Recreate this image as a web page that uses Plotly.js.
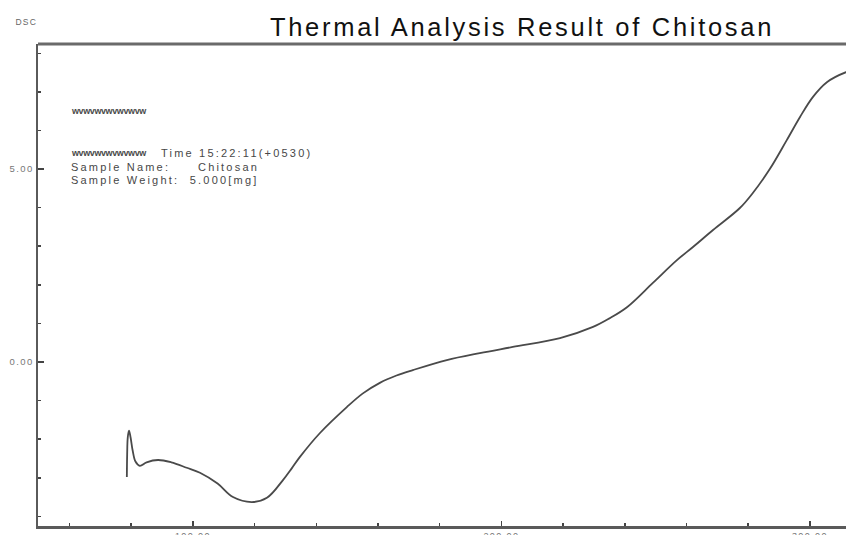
<!DOCTYPE html>
<html>
<head>
<meta charset="utf-8">
<script src="https://cdn.plot.ly/plotly-3.0.1.min.js"></script>
<style>
html,body{margin:0;padding:0;background:#fff;}
#chart{width:846px;height:535px;}
.gtitle{letter-spacing:2.7px;}
.annotation-text{letter-spacing:2.2px;}
g.annotation[data-index="0"] .annotation-text{letter-spacing:1.2px;}
g.annotation[data-index="1"] .annotation-text,
g.annotation[data-index="2"] .annotation-text{letter-spacing:-0.4px;}
.xtick text,.ytick text{letter-spacing:1.4px;}
</style>
</head>
<body>
<div id="chart"></div>
<script>
// Temperature (deg C) and DSC signal
var temperature = [78.6, 78.7, 78.9, 79.3, 79.8, 80.5, 81.4, 82.8, 85.0, 88.7, 93.0, 98.0, 102.3, 108.0, 113.0, 119.1, 124.0, 129.2, 132.1, 134.7, 141.2, 149.9, 155.0, 160.6, 166.0, 171.3, 182.3, 193.0, 203.7, 219.0, 229.7, 235.0, 240.7, 249.1, 256.9, 262.1, 268.6, 277.3, 281.5, 287.0, 292.5, 296.8, 301.0, 305.5, 311.7, 314.0];
var dsc = [-2.98, -2.40, -1.95, -1.78, -1.95, -2.30, -2.58, -2.69, -2.60, -2.54, -2.60, -2.74, -2.87, -3.15, -3.50, -3.63, -3.52, -3.06, -2.75, -2.46, -1.84, -1.17, -0.82, -0.54, -0.35, -0.21, 0.05, 0.23, 0.39, 0.62, 0.91, 1.13, 1.42, 2.05, 2.64, 2.98, 3.42, 3.99, 4.38, 5.00, 5.75, 6.35, 6.87, 7.25, 7.51, 7.56];

var titleText = "Thermal Analysis Result of Chitosan";
var yAxisLabel = "DSC";
var infoLeft = ["wvwvwvwvwvwvw", "wvwvwvwvwvwvw", "Sample Name:", "Sample Weight:  5.000[mg]"];
var infoTime = "Time 15:22:11(+0530)";
var infoName = "Chitosan";

var W = 846, H = 535, L = 38, T = 44, B = 9;
function px(x){ return (x - L) / (W - L); }
function py(y){ return (H - B - y) / (H - B - T); }

var trace = {
  x: temperature, y: dsc, type: 'scatter', mode: 'lines',
  line: {color: '#4a4a4a', width: 1.8, shape: 'spline', smoothing: 1.0},
  hoverinfo: 'skip'
};

var infoFont = {family: 'Liberation Sans, Arial, sans-serif', size: 11, color: '#474747'};
var sqFont = {family: 'Liberation Sans, Arial, sans-serif', size: 9, color: '#4a4a4a', weight: 'bold'};

function note(text, x, y, font){
  return {text: text, xref: 'paper', yref: 'paper', x: px(x), y: py(y), xanchor: 'left', yanchor: 'middle', align: 'left', showarrow: false, font: font};
}

var annotations = [
  {text: yAxisLabel, xref: 'paper', yref: 'paper', x: px(26), y: py(22), xanchor: 'center', yanchor: 'middle', showarrow: false, font: {family: 'Liberation Sans, Arial, sans-serif', size: 8.5, color: '#666'}},
  note(infoLeft[0], 69, 111, sqFont),
  note(infoLeft[1], 69, 153, sqFont),
  note(infoTime, 159, 153, infoFont),
  note(infoLeft[2], 69, 166.5, infoFont),
  note(infoName, 196, 166.5, infoFont),
  note(infoLeft[3], 69, 180, infoFont)
];

var layout = {
  width: W, height: H,
  margin: {l: L, r: 0, t: T, b: B, pad: 0},
  paper_bgcolor: '#fff', plot_bgcolor: '#fff',
  showlegend: false,
  title: {text: titleText, x: 522 / W, xanchor: 'center', y: 1 - 27 / H, yanchor: 'middle',
          font: {family: 'Liberation Sans, Arial, sans-serif', size: 25.5, color: '#111'}},
  xaxis: {
    range: [49.8, 311.7], showgrid: false, zeroline: false,
    showline: true, linecolor: '#5a5a5a', linewidth: 2.5,
    ticks: 'inside', ticklen: 5, tickwidth: 1.5, tickcolor: '#444',
    tick0: 0, dtick: 100, tickformat: '.2f',
    tickfont: {family: 'Liberation Sans, Arial, sans-serif', size: 9, color: '#777'},
    minor: {dtick: 20, tick0: 0, ticks: 'inside', ticklen: 3, tickwidth: 1.5, tickcolor: '#444', showgrid: false},
    fixedrange: true
  },
  yaxis: {
    range: [-4.25, 8.24], showgrid: false, zeroline: false,
    showline: true, linecolor: '#5a5a5a', linewidth: 2.5,
    ticks: 'inside', ticklen: 6, tickwidth: 1.5, tickcolor: '#444',
    tick0: 0, dtick: 5, tickformat: '.2f',
    tickfont: {family: 'Liberation Sans, Arial, sans-serif', size: 9.5, color: '#777'},
    minor: {dtick: 1, tick0: 0, ticks: 'inside', ticklen: 2.5, tickwidth: 1.5, tickcolor: '#444', showgrid: false},
    fixedrange: true
  },
  shapes: [
    {type: 'line', xref: 'paper', yref: 'paper', x0: 0, x1: 1, y0: 1, y1: 1, line: {color: '#6a6a6a', width: 3}}
  ],
  annotations: annotations
};

Plotly.newPlot('chart', [trace], layout, {displayModeBar: false, staticPlot: true});
</script>
</body>
</html>
